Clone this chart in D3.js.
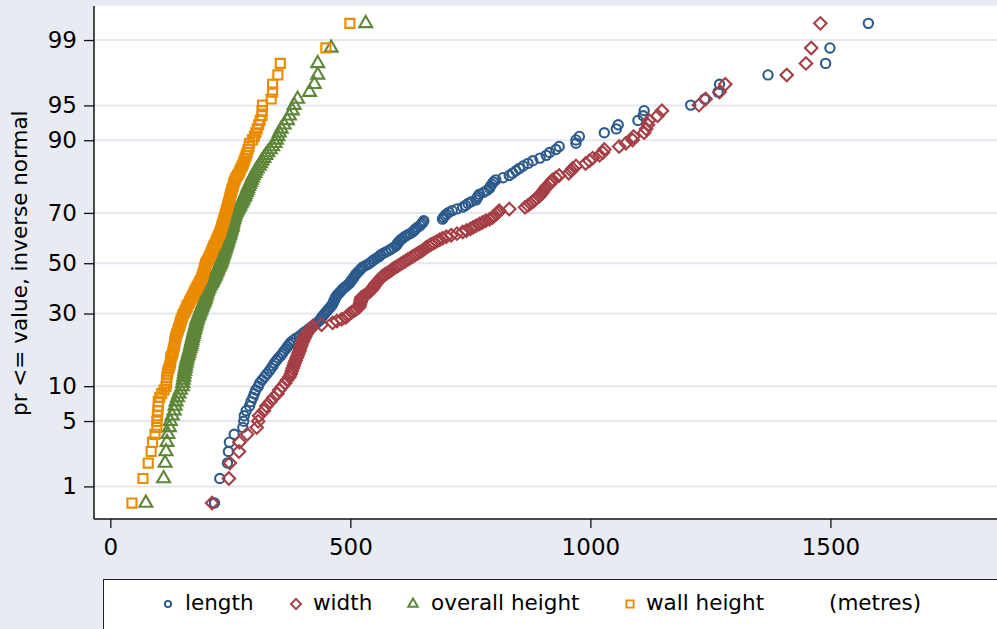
<!DOCTYPE html>
<html>
<head>
<meta charset="utf-8">
<script src="https://cdn.jsdelivr.net/npm/d3@7"></script>
<style>
  html, body { margin: 0; padding: 0; background: #e8ecf2; }
  text { font-family: "DejaVu Sans", sans-serif; fill: #000; }
</style>
</head>
<body>
<div id="qplot"></div>
<script>
// sorted values (metres), one per observation
const lengthVals = [
  217,228,244,246,248,258,276,278,279,283,
  290,293,297,300,303,308,311,316,321,326,
  331,335,339,342,346,350,355,359,362,366,
  369,373,376,381,387,394,399,404,410,415,
  420,425,430,435,438,440,443,446,449,452,
  455,458,461,463,465,466,468,469,471,474,
  477,480,483,486,490,494,498,500,502,505,
  507,509,511,514,517,520,523,526,532,538,
  542,546,550,555,560,563,568,574,580,585,
  590,595,597,599,602,605,609,613,618,624,
  630,633,636,640,645,648,651,653,692,694,
  697,700,705,712,722,734,740,745,752,762,
  764,766,769,778,785,790,792,795,798,803,
  818,831,838,845,852,860,870,880,895,908,
  915,928,935,970,970,977,1029,1054,1058,1099,
  1110,1112,1209,1238,1266,1269,1370,1490,1499,1579];

const widthVals = [
  212,247,249,268,269,285,305,308,310,320,
  325,333,340,348,352,358,364,368,373,376,
  378,380,382,384,386,388,390,392,394,395,
  397,398,400,402,404,406,408,411,414,418,
  421,440,463,472,482,490,494,498,503,508,
  513,518,519,520,521,522,522,523,528,533,
  537,541,544,547,549,551,553,556,559,562,
  565,567,572,577,582,586,590,595,600,605,
  610,615,620,625,630,635,640,645,650,654,
  658,663,668,674,680,686,692,700,710,722,
  734,742,750,756,762,769,775,782,790,796,
  800,804,808,810,831,864,870,875,880,884,
  888,894,897,900,903,906,909,915,918,921,
  928,935,955,960,963,970,990,998,1005,1019,
  1026,1029,1060,1074,1088,1090,1112,1116,1120,1122,
  1140,1149,1226,1240,1269,1281,1409,1449,1460,1479];

const overallVals = [
  74,111,114,116,118,120,123,125,129,133,
  135,137,140,143,146,150,151,152,153,154,
  155,156,157,158,159,160,162,163,164,166,
  167,168,169,170,171,172,173,174,175,176,
  177,178,179,180,181,182,184,185,186,188,
  189,190,192,193,195,196,197,198,199,200,
  201,202,203,205,206,208,210,212,213,215,
  216,218,219,220,222,223,224,226,227,229,
  230,231,232,233,234,235,236,237,238,239,
  240,241,242,243,244,245,246,247,248,249,
  250,251,252,253,254,254,255,256,257,258,
  259,260,262,264,266,268,270,272,274,276,
  278,280,281,283,285,286,288,290,292,294,
  296,298,301,303,306,310,313,316,320,324,
  328,333,338,343,346,349,352,356,362,369,
  373,379,383,390,415,425,432,432,460,532];

const wallVals = [
  45,68,79,85,88,93,97,97,98,99,
  100,100,103,107,112,116,117,117,118,119,
  120,122,124,125,126,126,128,130,131,132,
  133,134,134,135,136,137,138,140,141,142,
  144,145,146,147,148,150,151,152,155,156,
  158,160,160,163,165,166,168,170,171,173,
  175,176,178,180,181,183,185,186,188,190,
  191,192,193,194,195,196,196,197,198,199,
  200,202,204,205,207,208,210,211,212,213,
  215,216,218,220,221,222,223,225,226,228,
  229,230,231,232,233,234,235,236,237,238,
  239,240,241,242,243,244,245,246,247,248,
  249,250,251,252,253,254,256,257,258,260,
  262,265,268,270,272,275,277,279,281,283,
  285,287,289,290,296,300,303,306,309,312,
  316,316,317,335,338,338,349,354,449,499];

const seriesNames = ["length", "width", "overall height", "wall height"];
const seriesColors = ["#2c5a8c", "#a53f45", "#5d8638", "#ea8b00"];
const pctTicks = [1, 5, 10, 30, 50, 70, 90, 95, 99];
const xTicks = [0, 500, 1000, 1500];

// inverse standard normal (Acklam)
function invnorm(p) {
  const a = [-3.969683028665376e+01, 2.209460984245205e+02, -2.759285104469687e+02, 1.383577518672690e+02, -3.066479806614716e+01, 2.506628277459239e+00];
  const b = [-5.447609879822406e+01, 1.615858368580409e+02, -1.556989798598866e+02, 6.680131188771972e+01, -1.328068155288572e+01];
  const c = [-7.784894002430293e-03, -3.223964580411365e-01, -2.400758277161838e+00, -2.549732539343734e+00, 4.374664141464968e+00, 2.938163982698783e+00];
  const d = [7.784695709041462e-03, 3.224671290700398e-01, 2.445134137142996e+00, 3.754408661907416e+00];
  const pl = 0.02425;
  let q, r;
  if (p < pl) {
    q = Math.sqrt(-2 * Math.log(p));
    return (((((c[0]*q+c[1])*q+c[2])*q+c[3])*q+c[4])*q+c[5]) / ((((d[0]*q+d[1])*q+d[2])*q+d[3])*q+1);
  } else if (p <= 1 - pl) {
    q = p - 0.5; r = q * q;
    return (((((a[0]*r+a[1])*r+a[2])*r+a[3])*r+a[4])*r+a[5])*q / (((((b[0]*r+b[1])*r+b[2])*r+b[3])*r+b[4])*r+1);
  }
  q = Math.sqrt(-2 * Math.log(1 - p));
  return -(((((c[0]*q+c[1])*q+c[2])*q+c[3])*q+c[4])*q+c[5]) / ((((d[0]*q+d[1])*q+d[2])*q+d[3])*q+1);
}

const W = 997, H = 629;
const plot = {left: 94, right: 997, top: 6, bottom: 519};

const svg = d3.select("#qplot")
    .append("svg")
    .attr("width", W)
    .attr("height", H);

svg.append("rect").attr("width", W).attr("height", H).attr("fill", "#e8ecf2");
svg.append("rect")
    .attr("x", plot.left).attr("y", plot.top)
    .attr("width", plot.right - plot.left).attr("height", plot.bottom - plot.top)
    .attr("fill", "#fff");

// scales: x in metres, y on the normal quantile scale
const x = d3.scaleLinear().domain([-34, 1847]).range([plot.left, plot.right]);
const y = d3.scaleLinear().domain([-2.666, 2.681]).range([plot.bottom, plot.top]);
const yPct = pct => y(invnorm(pct / 100));

// grid
svg.append("g")
    .selectAll("line")
    .data(pctTicks)
    .join("line")
    .attr("x1", plot.left).attr("x2", plot.right)
    .attr("y1", d => yPct(d)).attr("y2", d => yPct(d))
    .attr("stroke", "#e4e9f0")
    .attr("stroke-width", 2);

// Y axis
const yAxis = d3.axisLeft(y)
    .tickValues(pctTicks.map(p => invnorm(p / 100)))
    .tickFormat((d, i) => pctTicks[i])
    .tickSize(10)
    .tickPadding(7);
const gy = svg.append("g")
    .attr("transform", `translate(${plot.left},0)`)
    .call(yAxis);
gy.select(".domain").attr("d", `M0,${plot.top}V${plot.bottom}`).attr("stroke", "#111").attr("stroke-width", 1.5);
gy.selectAll(".tick line").attr("stroke", "#111").attr("stroke-width", 1.3);
gy.selectAll(".tick text").style("font-size", "23px").style("font-family", "DejaVu Sans");

// X axis
const xAxis = d3.axisBottom(x).tickValues(xTicks).tickFormat(d3.format("d")).tickSize(9).tickPadding(11);
const gx = svg.append("g")
    .attr("transform", `translate(0,${plot.bottom})`)
    .call(xAxis);
gx.select(".domain").attr("d", `M${plot.left},0H${plot.right}`).attr("stroke", "#111").attr("stroke-width", 1.5);
gx.selectAll(".tick line").attr("stroke", "#111").attr("stroke-width", 1.3);
gx.selectAll(".tick text").style("font-size", "23px").style("font-family", "DejaVu Sans");

// y title
svg.append("text")
    .attr("transform", `translate(27,${(yPct(1) + yPct(99)) / 2}) rotate(-90)`)
    .attr("text-anchor", "middle")
    .style("font-size", "21.5px")
    .text("pr <= value, inverse normal");

// marker shapes
const shapes = [
  s => d3.symbol(d3.symbolCircle, s.circle)(),
  s => d3.symbol(d3.symbolSquare, s.diamond)(),
  s => d3.symbol(d3.symbolTriangle, s.triangle)(),
  s => d3.symbol(d3.symbolSquare, s.square)()
];
const rot = [0, 45, 0, 0];
const plotSize = {circle: 68, diamond: 78, triangle: 72, square: 82};
const legendSize = {circle: 30, diamond: 52, triangle: 40, square: 52};

const allSeries = [lengthVals, widthVals, overallVals, wallVals];
allSeries.forEach((vals, k) => {
    const n = vals.length;
    const path = shapes[k](plotSize);
    svg.append("g")
        .selectAll("path")
        .data(vals)
        .join("path")
        .attr("d", path)
        .attr("transform", (d, i) => `translate(${x(d)},${y(invnorm((i + 1) / (n + 1)))}) rotate(${rot[k]})`)
        .attr("fill", "none")
        .attr("stroke", seriesColors[k])
        .attr("stroke-width", 2.1);
});

// legend
svg.append("rect")
    .attr("x", 103.5).attr("y", 579.5)
    .attr("width", 920).attr("height", 80)
    .attr("fill", "#fff")
    .attr("stroke", "#222")
    .attr("stroke-width", 1);

const legendMarkX = [168, 296, 413, 630];
const legendTextX = [185, 313, 431, 646];
seriesNames.forEach((name, k) => {
    svg.append("path")
        .attr("d", shapes[k](legendSize))
        .attr("transform", `translate(${legendMarkX[k]},604) rotate(${rot[k]})`)
        .attr("fill", "none")
        .attr("stroke", seriesColors[k])
        .attr("stroke-width", 1.9);
    svg.append("text")
        .attr("x", legendTextX[k]).attr("y", 610)
        .style("font-size", "21.5px")
        .text(name);
});
svg.append("text")
    .attr("x", 829).attr("y", 610)
    .style("font-size", "21.5px")
    .text("(metres)");
</script>
</body>
</html>
